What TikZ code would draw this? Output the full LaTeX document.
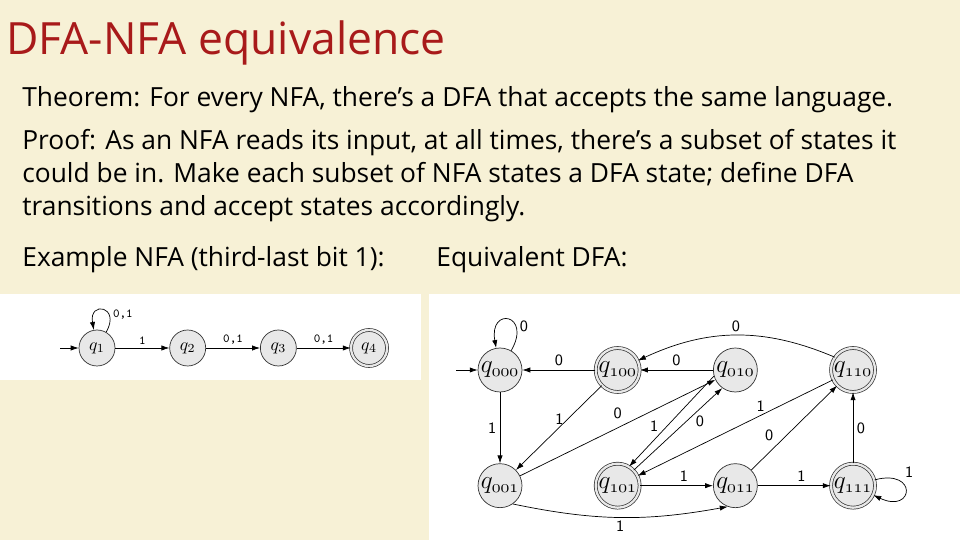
\documentclass[tikz,border=0pt]{standalone}
\usepackage{fontspec}
\setmainfont{Open Sans}
\usetikzlibrary{
    positioning,   % Required for "right=of" (the state rows)
    arrows.meta    % Required for Latex arrowheads
}
\definecolor{slidebg}{RGB}{247,241,214}
\definecolor{titlered}{RGB}{168,26,26}
\definecolor{statefill}{RGB}{232,232,232}
\definecolor{stateline}{RGB}{50,50,50}

\tikzset{
    nstate/.style={circle, draw=stateline, fill=statefill, thin, minimum size=0.72cm, inner sep=0pt, font=\fontsize{10}{10}\selectfont},
    dstate/.style={circle, draw=stateline, fill=statefill, thin, minimum size=0.88cm, inner sep=0pt, font=\fontsize{14}{14}\selectfont},
    accept/.style={double=statefill, double distance=1.3pt},
    nlbl/.style={font=\ttfamily\fontsize{7}{7}\selectfont, inner sep=2pt},
    dlbl/.style={font=\sffamily\fontsize{9}{9}\selectfont, inner sep=2pt},
    slidetext/.style={anchor=base west, inner sep=0pt, font=\fontsize{15}{19}\selectfont}
}

\begin{document}
\begin{tikzpicture}[x=0.02cm, y=0.02cm, >={Latex[length=4.5pt,width=3pt]}]
    % Slide background and the two picture panels
    \fill[slidebg] (0,0) rectangle (960,540);
    \fill[white] (0,160) rectangle (421,246);
    \fill[white] (429,0) rectangle (960,246);
    \useasboundingbox (0,0) rectangle (960,540);

    % Texts
    \node[slidetext, font=\fontsize{25.3}{26}\selectfont, text=titlered] (title) at (6,485) {DFA-NFA equivalence};
    \node[slidetext] (theorem) at (22,433) {Theorem: For every NFA, there’s a DFA that accepts the same language.};
    \node[slidetext, align=left] (proof) at (22,324) {Proof: As an NFA reads its input, at all times, there’s a subset of states it\\could be in. Make each subset of NFA states a DFA state; define DFA\\transitions and accept states accordingly.};
    \node[slidetext] (nfatext) at (22,273) {Example NFA (third-last bit 1):};
    \node[slidetext] (dfatext) at (436,273) {Equivalent DFA:};

    % Example NFA
    \begin{scope}[node distance=1.08cm]
        \node[nstate] (q1) at (97,192) {$q_1$};
        \node[nstate, right=of q1] (q2) {$q_2$};
        \node[nstate, right=of q2] (q3) {$q_3$};
        \node[nstate, accept, right=of q3] (q4) {$q_4$};
    \end{scope}
    \coordinate (nstart) at (60,192);
    \draw[->] (nstart) -- (q1);
    \draw[->] (q1) to[loop, out=60, in=100, distance=6mm] node[nlbl, right, pos=0.3] {0,1} (q1);
    \draw[->] (q1) -- node[nlbl, above] {1} (q2);
    \draw[->] (q2) -- node[nlbl, above] {0,1} (q3);
    \draw[->] (q3) -- node[nlbl, above] {0,1} (q4);

    % Equivalent DFA
    \begin{scope}[node distance=1.42cm and 1.46cm]
        \node[dstate] (q000) at (500,170) {$q_{\mathnormal{000}}$};
        \node[dstate, accept, right=of q000] (q100) {$q_{\mathnormal{100}}$};
        \node[dstate, right=of q100] (q010) {$q_{\mathnormal{010}}$};
        \node[dstate, accept, right=of q010] (q110) {$q_{\mathnormal{110}}$};
        \node[dstate, below=of q000] (q001) {$q_{\mathnormal{001}}$};
        \node[dstate, accept, right=of q001] (q101) {$q_{\mathnormal{101}}$};
        \node[dstate, right=of q101] (q011) {$q_{\mathnormal{011}}$};
        \node[dstate, accept, right=of q011] (q111) {$q_{\mathnormal{111}}$};
    \end{scope}
    \coordinate (dstart) at (456,170);
    \draw[->] (dstart) -- (q000);
    \draw[->] (q000) to[loop, out=60, in=100, distance=8.5mm] node[dlbl, right, pos=0.3] {0} (q000);
    \draw[->] (q100) -- node[dlbl, above] {0} (q000);
    \draw[->] (q010) -- node[dlbl, above] {0} (q100);
    \draw[->] (q110.145) to[bend right=24] node[dlbl, above] {0} (q100.25);
    \draw[->] (q000) -- node[dlbl, left] {1} (q001);
    \draw[->] (q100) -- node[dlbl, left, pos=0.4] {1} (q001);
    \draw[->] (q001) -- node[dlbl, above=3pt] {0} (q010);
    \draw[->] (q010.196) -- node[dlbl, left=3pt, pos=0.55] {1} (q101.59);
    \draw[->] (q101.44) -- node[dlbl, right=3pt, pos=0.6] {0} (q010.234);
    \draw[->] (q110) -- node[dlbl, above, pos=0.37] {1} (q101);
    \draw[->] (q011) -- node[dlbl, above left, pos=0.3] {0} (q110);
    \draw[->] (q111) -- node[dlbl, right] {0} (q110);
    \draw[->] (q101) -- node[dlbl, above, pos=0.6] {1} (q011);
    \draw[->] (q011) -- node[dlbl, above, pos=0.6] {1} (q111);
    \draw[->] (q111) to[loop, out=15, in=-25, distance=9mm] node[dlbl, above right, pos=0.3] {1} (q111);
    \draw[->] (q001.-55) to[bend right=11] node[dlbl, below] {1} (q011.-110);
\end{tikzpicture}
\end{document}
